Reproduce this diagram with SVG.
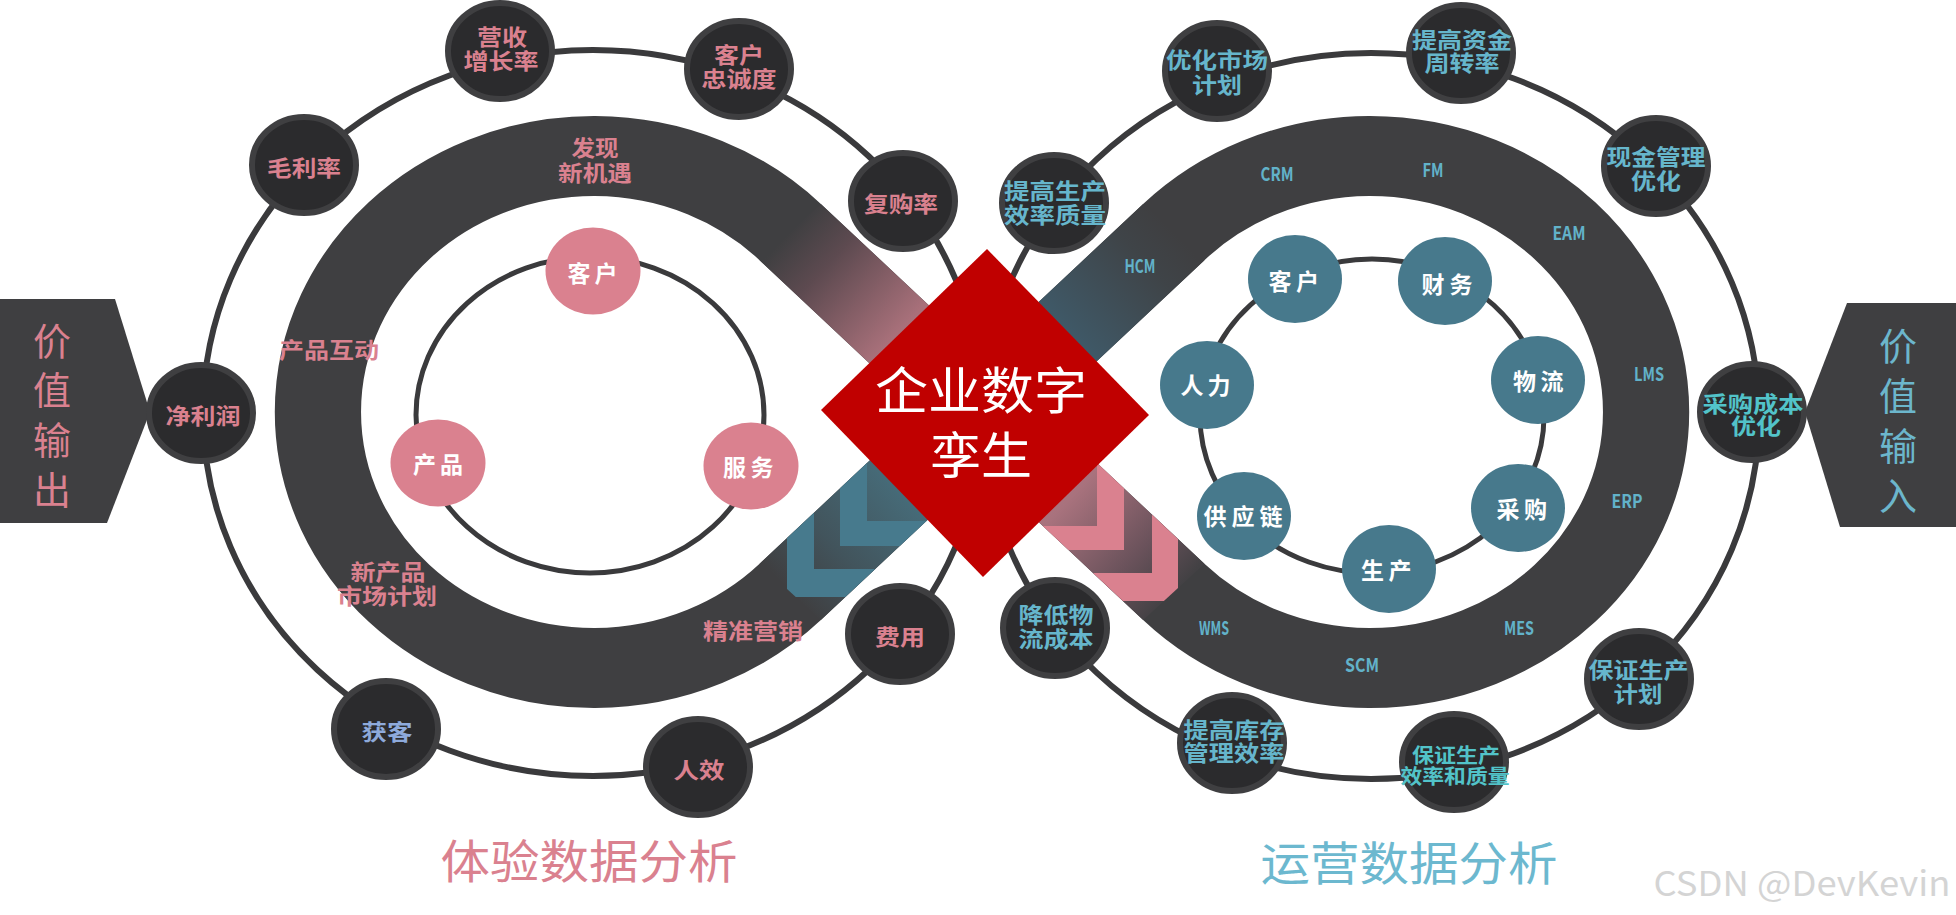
<svg xmlns="http://www.w3.org/2000/svg" width="1956" height="915" viewBox="0 0 1956 915">
<style>
text{font-family:"Noto Sans CJK SC","Noto Sans",sans-serif;text-anchor:middle;dominant-baseline:central}
.ring{fill:none;stroke:#3a3a3c;stroke-width:6}
.iring{fill:none;stroke:#3a3a3c;stroke-width:5}
.dn{fill:#2b2b2d;stroke:#3f3f41;stroke-width:6}
.pn{fill:#da818f}
.tn{fill:#47798c}
.tp{fill:#da818f;font-size:22px;font-weight:700}
.tb{fill:#8eaadb;font-size:22px;font-weight:700}
.tt{fill:#66b6cc;font-size:22px;font-weight:700}
.tc{fill:#52c3c9;font-size:22px;font-weight:700}
.wn{fill:#ffffff;font-size:23px;font-weight:700}
.bl{font-family:"Liberation Sans",Arial,sans-serif;font-weight:700;font-size:19px;fill:#62b2c9}
.side{font-size:38px;font-weight:400}
.title{font-size:46px;font-weight:400}
</style>
<defs>
<linearGradient id="gUL" gradientUnits="userSpaceOnUse" x1="790" y1="232" x2="982" y2="412">
<stop offset="0" stop-color="#3f3f41"/><stop offset="0.19" stop-color="#5d4a50"/><stop offset="0.56" stop-color="#a8707a"/><stop offset="1" stop-color="#c8838e"/>
</linearGradient>
<linearGradient id="gUR" gradientUnits="userSpaceOnUse" x1="1174" y1="232" x2="982" y2="412">
<stop offset="0" stop-color="#3f3f41"/><stop offset="0.16" stop-color="#3f4448"/><stop offset="0.54" stop-color="#3f5866"/><stop offset="1" stop-color="#426473"/>
</linearGradient>
<linearGradient id="gLL" gradientUnits="userSpaceOnUse" x1="790" y1="592" x2="982" y2="412">
<stop offset="0" stop-color="#3f3f41"/><stop offset="0.24" stop-color="#42545c"/><stop offset="0.56" stop-color="#466a77"/><stop offset="1" stop-color="#4a7888"/>
</linearGradient>
<linearGradient id="gLR" gradientUnits="userSpaceOnUse" x1="982" y1="412" x2="1174" y2="592">
<stop offset="0" stop-color="#c98892"/><stop offset="0.47" stop-color="#a8727d"/><stop offset="0.8" stop-color="#6a525b"/><stop offset="1" stop-color="#434144"/>
</linearGradient>
<clipPath id="cLL"><polygon points="759.6,563.8 820.8,620 1012.7,440.1 951.3,383.9"/></clipPath>
<clipPath id="cLR"><polygon points="1204.4,563.8 1143.2,620 951.3,440.1 1012.7,383.9"/></clipPath>
</defs>

<g id="connectors">
<ellipse class="ring" cx="593" cy="413" rx="390" ry="363"/>
<ellipse class="ring" cx="1371" cy="416" rx="388" ry="363"/>
<ellipse class="iring" cx="590" cy="415" rx="174" ry="158"/>
<ellipse class="iring" cx="1372" cy="416" rx="172" ry="157"/>
</g>

<g id="band">
<g transform="translate(982,412) scale(1.078,1)">
<path d="M-177.9,-179.9 L177.9,179.9 A256,256 0 1 0 177.9,-179.9 L-177.9,179.9 A256,256 0 1 1 -177.9,-179.9 Z" fill="none" stroke="#3f3f41" stroke-width="80"/>
</g>
<polygon points="759.6,260.2 820.8,204 1012.7,383.9 951.3,440.1" fill="url(#gUL)"/>
<polygon points="1204.4,260.2 1143.2,204 951.3,383.9 1012.7,440.1" fill="url(#gUR)"/>
<polygon points="759.6,563.8 820.8,620 1012.7,440.1 951.3,383.9" fill="url(#gLL)"/>
<polygon points="1204.4,563.8 1143.2,620 951.3,440.1 1012.7,383.9" fill="url(#gLR)"/>
<g clip-path="url(#cLL)" fill="#477a8d">
<polygon points="840,300 840,546 1100,546 1100,521 867,521 867,300"/>
<polygon points="787,300 787,597 1100,597 1100,569 814,569 814,300"/>
</g>
<g clip-path="url(#cLR)" fill="#da818f">
<polygon points="1124,300 1124,550 860,550 860,526 1097,526 1097,300"/>
<polygon points="1178,300 1178,601 860,601 860,573 1152,573 1152,300"/>
</g>
<text class="tp"><tspan x="595" y="146" textLength="47" lengthAdjust="spacingAndGlyphs">发现</tspan><tspan x="595" y="170.5" textLength="74" lengthAdjust="spacingAndGlyphs">新机遇</tspan></text>
<text class="tp" x="329" y="348" textLength="100" lengthAdjust="spacingAndGlyphs">产品互动</text>
<text class="tp"><tspan x="388" y="569.5" textLength="75" lengthAdjust="spacingAndGlyphs">新产品</tspan><tspan x="387" y="594" textLength="100" lengthAdjust="spacingAndGlyphs">市场计划</tspan></text>
<text class="tp" x="753" y="628.5" textLength="100" lengthAdjust="spacingAndGlyphs">精准营销</text>
<g class="bl">
<text x="1140" y="264" textLength="31" lengthAdjust="spacingAndGlyphs">HCM</text>
<text x="1277" y="172" textLength="33" lengthAdjust="spacingAndGlyphs">CRM</text>
<text x="1433" y="168" textLength="21" lengthAdjust="spacingAndGlyphs">FM</text>
<text x="1569" y="231" textLength="33" lengthAdjust="spacingAndGlyphs">EAM</text>
<text x="1649" y="372" textLength="30" lengthAdjust="spacingAndGlyphs">LMS</text>
<text x="1627" y="499" textLength="31" lengthAdjust="spacingAndGlyphs">ERP</text>
<text x="1214" y="626" textLength="30" lengthAdjust="spacingAndGlyphs">WMS</text>
<text x="1519" y="626" textLength="30" lengthAdjust="spacingAndGlyphs">MES</text>
<text x="1362" y="663" textLength="34" lengthAdjust="spacingAndGlyphs">SCM</text>
</g>
</g>

<g id="center">
<polygon points="987,249 1149,415 983,577 821,410" fill="#c00000"/>
<text fill="#ffffff" font-size="50"><tspan x="981" y="387" textLength="212" lengthAdjust="spacingAndGlyphs">企业数字</tspan><tspan x="981" y="452" textLength="102" lengthAdjust="spacingAndGlyphs">孪生</tspan></text>
</g>

<g id="value-out">
<polygon points="0,299 115,299 150,412 107,523 0,523" fill="#3f3f41"/>
<text class="side" fill="#da818f" x="52 52 52 52" y="338 387 437 487">价值输出</text>
</g>
<g id="value-in">
<polygon points="1847,303 1956,303 1956,527 1840,527 1805,412" fill="#3f3f41"/>
<text class="side" fill="#6cb6cc" x="1898 1898 1898 1898" y="343 393 443 493">价值输入</text>
</g>

<g id="n-maolilv"><ellipse class="dn" cx="304" cy="165" rx="52" ry="48"/><text class="tp" x="304" y="166" textLength="74" lengthAdjust="spacingAndGlyphs">毛利率</text></g>
<g id="n-yingshou"><ellipse class="dn" cx="500" cy="51" rx="52" ry="48"/><text class="tp"><tspan x="502" y="35" textLength="50" lengthAdjust="spacingAndGlyphs">营收</tspan><tspan x="501" y="59" textLength="75" lengthAdjust="spacingAndGlyphs">增长率</tspan></text></g>
<g id="n-zhongcheng"><ellipse class="dn" cx="739" cy="69" rx="52" ry="48"/><text class="tp"><tspan x="739" y="53" textLength="50" lengthAdjust="spacingAndGlyphs">客户</tspan><tspan x="739" y="77" textLength="75" lengthAdjust="spacingAndGlyphs">忠诚度</tspan></text></g>
<g id="n-fugou"><ellipse class="dn" cx="903" cy="201" rx="52" ry="48"/><text class="tp" x="901" y="202" textLength="74" lengthAdjust="spacingAndGlyphs">复购率</text></g>
<g id="n-jinglirun"><ellipse class="dn" cx="201" cy="413" rx="52" ry="48"/><text class="tp" x="203" y="414" textLength="75" lengthAdjust="spacingAndGlyphs">净利润</text></g>
<g id="n-huoke"><ellipse class="dn" cx="386" cy="729" rx="52" ry="48"/><text class="tb" x="387" y="730" textLength="51" lengthAdjust="spacingAndGlyphs">获客</text></g>
<g id="n-renxiao"><ellipse class="dn" cx="698" cy="767" rx="52" ry="48"/><text class="tp" x="699" y="768" textLength="51" lengthAdjust="spacingAndGlyphs">人效</text></g>
<g id="n-feiyong"><ellipse class="dn" cx="900" cy="634" rx="52" ry="48"/><text class="tp" x="900" y="634.5" textLength="50" lengthAdjust="spacingAndGlyphs">费用</text></g>

<g id="n-shichang"><ellipse class="dn" cx="1217" cy="71" rx="52" ry="48"/><text class="tt"><tspan x="1217" y="57.5" textLength="102" lengthAdjust="spacingAndGlyphs">优化市场</tspan><tspan x="1217" y="82.5" textLength="50" lengthAdjust="spacingAndGlyphs">计划</tspan></text></g>
<g id="n-zijin"><ellipse class="dn" cx="1461" cy="53" rx="52" ry="48"/><text class="tt"><tspan x="1462" y="37.5" textLength="100" lengthAdjust="spacingAndGlyphs">提高资金</tspan><tspan x="1462" y="61" textLength="75" lengthAdjust="spacingAndGlyphs">周转率</tspan></text></g>
<g id="n-xianjin"><ellipse class="dn" cx="1656" cy="166" rx="52" ry="48"/><text class="tt"><tspan x="1656" y="154.5" textLength="99" lengthAdjust="spacingAndGlyphs">现金管理</tspan><tspan x="1656" y="179" textLength="50" lengthAdjust="spacingAndGlyphs">优化</tspan></text></g>
<g id="n-shengchan"><ellipse class="dn" cx="1054" cy="203" rx="52" ry="48"/><text class="tt"><tspan x="1055" y="189" textLength="102" lengthAdjust="spacingAndGlyphs">提高生产</tspan><tspan x="1055" y="212.5" textLength="102" lengthAdjust="spacingAndGlyphs">效率质量</tspan></text></g>
<g id="n-caigou"><ellipse class="dn" cx="1752" cy="412" rx="52" ry="48"/><text class="tc"><tspan x="1753" y="402" textLength="101" lengthAdjust="spacingAndGlyphs">采购成本</tspan><tspan x="1756" y="424" textLength="50" lengthAdjust="spacingAndGlyphs">优化</tspan></text></g>
<g id="n-wuliu"><ellipse class="dn" cx="1055" cy="628" rx="52" ry="48"/><text class="tt"><tspan x="1056" y="612.5" textLength="75" lengthAdjust="spacingAndGlyphs">降低物</tspan><tspan x="1056" y="636.5" textLength="75" lengthAdjust="spacingAndGlyphs">流成本</tspan></text></g>
<g id="n-kucun"><ellipse class="dn" cx="1232" cy="743" rx="52" ry="48"/><text class="tt"><tspan x="1234" y="727.5" textLength="101" lengthAdjust="spacingAndGlyphs">提高库存</tspan><tspan x="1234" y="751" textLength="101" lengthAdjust="spacingAndGlyphs">管理效率</tspan></text></g>
<g id="n-zhiliang"><ellipse class="dn" cx="1454" cy="762" rx="52" ry="48"/><text class="tc" font-size="20" style="font-size:20px"><tspan x="1456" y="753.5" textLength="88" lengthAdjust="spacingAndGlyphs">保证生产</tspan><tspan x="1455" y="774.5" textLength="109" lengthAdjust="spacingAndGlyphs">效率和质量</tspan></text></g>
<g id="n-jihua"><ellipse class="dn" cx="1639" cy="679" rx="52" ry="48"/><text class="tt"><tspan x="1638.5" y="667.5" textLength="100" lengthAdjust="spacingAndGlyphs">保证生产</tspan><tspan x="1638" y="692" textLength="49" lengthAdjust="spacingAndGlyphs">计划</tspan></text></g>

<g id="p-kehu"><ellipse class="pn" cx="593" cy="271" rx="47.5" ry="43.5"/><text class="wn" x="579 606" y="272">客户</text></g>
<g id="p-chanpin"><ellipse class="pn" cx="438" cy="463" rx="47.5" ry="43.5"/><text class="wn" x="424.5 451.5" y="463">产品</text></g>
<g id="p-fuwu"><ellipse class="pn" cx="751" cy="466" rx="47.5" ry="43.5"/><text class="wn" x="734.5 762" y="466">服务</text></g>

<g id="t-kehu"><ellipse class="tn" cx="1295" cy="279" rx="47" ry="44"/><text class="wn" x="1280 1307.5" y="279.5">客户</text></g>
<g id="t-caiwu"><ellipse class="tn" cx="1445" cy="281" rx="47" ry="44"/><text class="wn" x="1433 1461" y="282.5">财务</text></g>
<g id="t-wuliu"><ellipse class="tn" cx="1538" cy="380" rx="47" ry="44"/><text class="wn" x="1524.5 1552" y="379.5">物流</text></g>
<g id="t-caigou"><ellipse class="tn" cx="1518" cy="508" rx="47" ry="44"/><text class="wn" x="1508 1535.5" y="508">采购</text></g>
<g id="t-shengchan"><ellipse class="tn" cx="1389" cy="569" rx="47" ry="44"/><text class="wn" x="1372.5 1400" y="569">生产</text></g>
<g id="t-gongying"><ellipse class="tn" cx="1244" cy="516" rx="47" ry="44"/><text class="wn" x="1215 1243 1271" y="514.5">供应链</text></g>
<g id="t-renli"><ellipse class="tn" cx="1207" cy="385" rx="47" ry="44"/><text class="wn" x="1192 1219" y="384">人力</text></g>

<g id="titles">
<text class="title" x="589" y="858" fill="#da818f" textLength="297" lengthAdjust="spacingAndGlyphs">体验数据分析</text>
<text class="title" x="1409" y="860" fill="#6cb8cf" textLength="297" lengthAdjust="spacingAndGlyphs">运营数据分析</text>
<text x="1802" y="881" fill="#d4d4d4" font-family="Liberation Sans, Arial, sans-serif" font-size="34" textLength="297" lengthAdjust="spacingAndGlyphs">CSDN @DevKevin</text>
</g>
</svg>
